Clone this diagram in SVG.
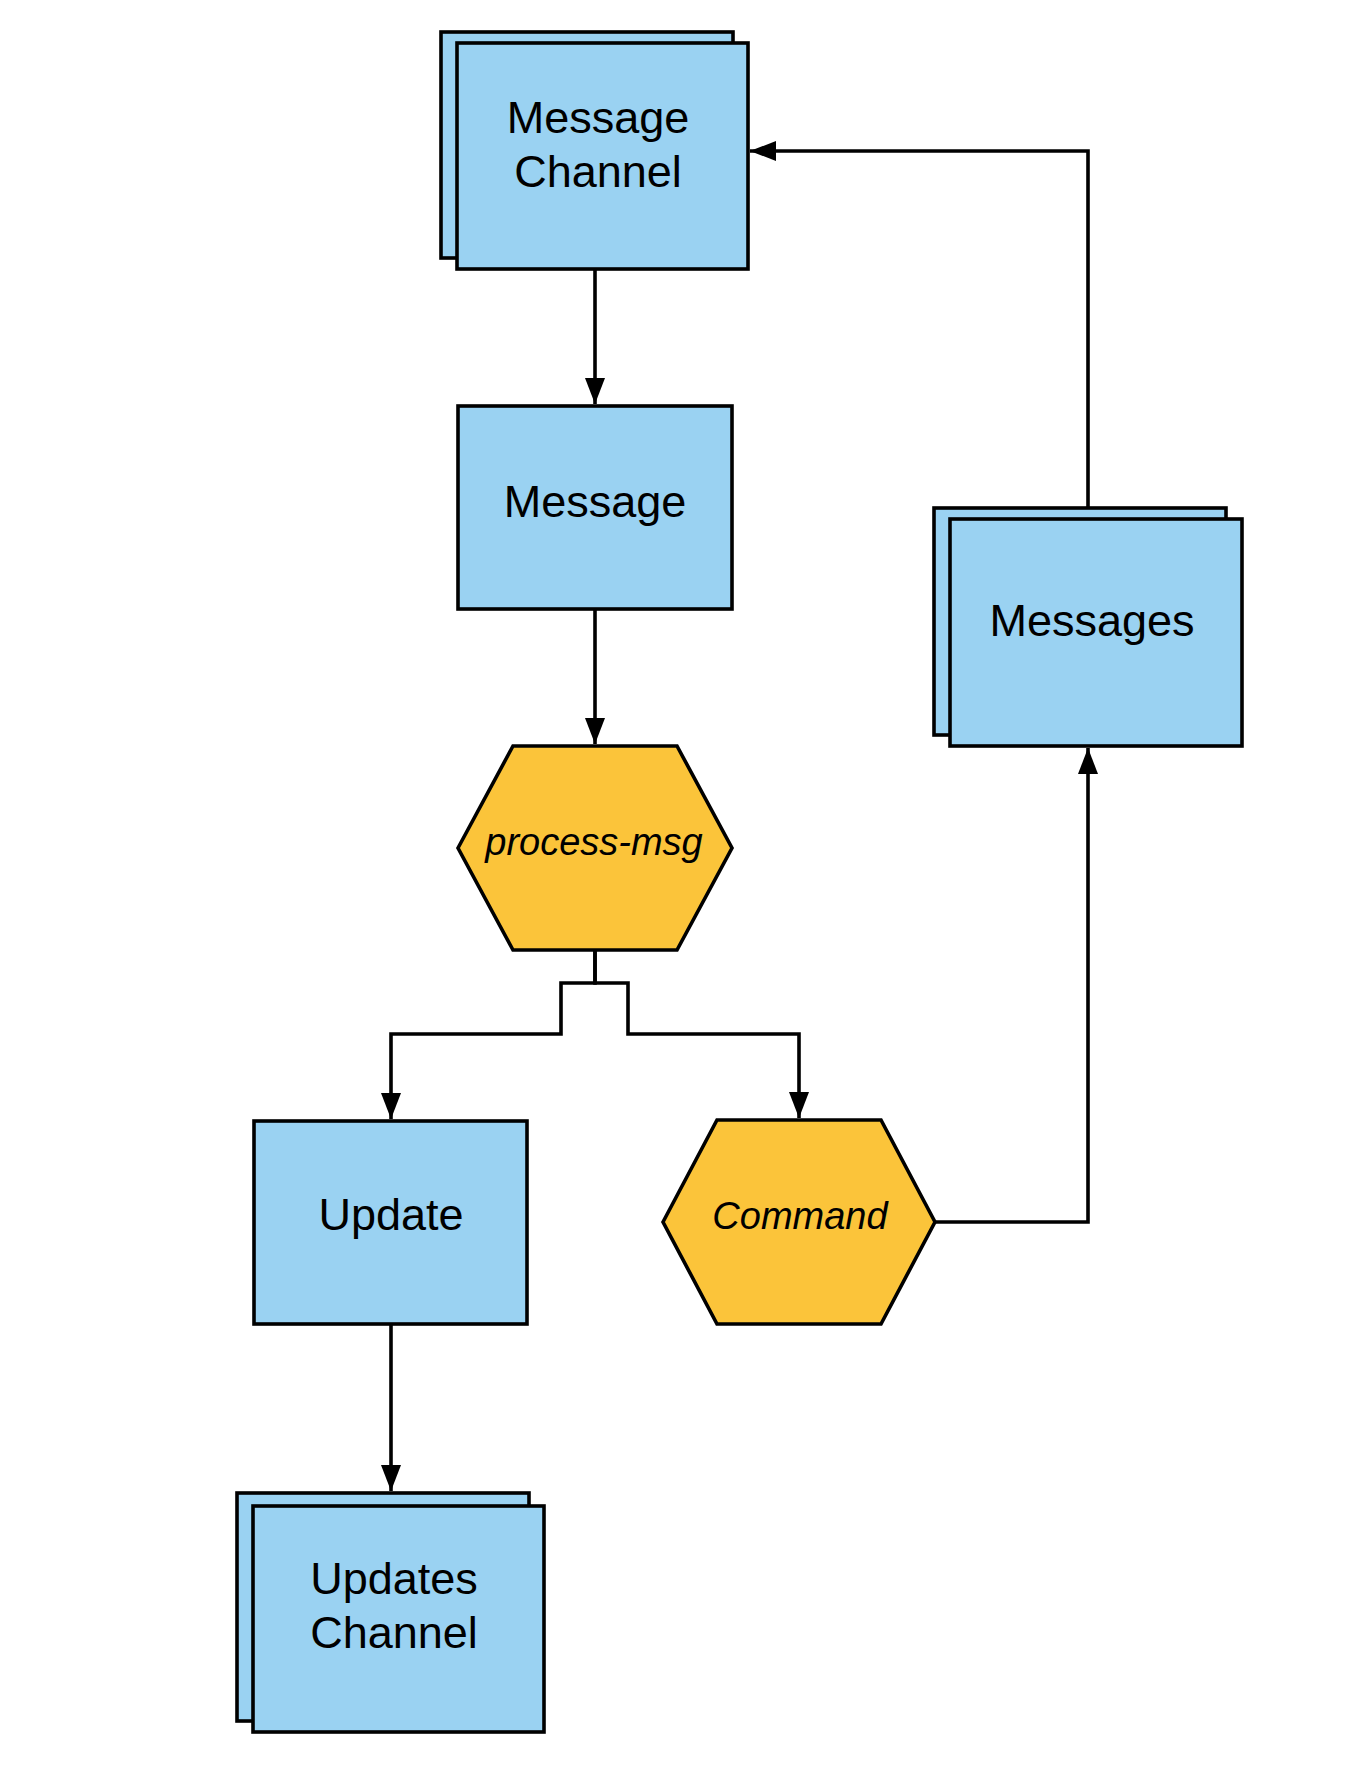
<svg xmlns="http://www.w3.org/2000/svg" width="1363" height="1765" viewBox="0 0 1363 1765">
<style>
.box{fill:#9AD2F2;stroke:#000;stroke-width:3.6}
.hex{fill:#FBC43A;stroke:#000;stroke-width:3.6}
.lbl{font-family:"Liberation Sans",Arial,sans-serif;font-size:45px;fill:#000;text-anchor:middle}
.ital{font-family:"Liberation Sans",Arial,sans-serif;font-size:38px;font-style:italic;fill:#000;text-anchor:middle}
.conn{fill:none;stroke:#000;stroke-width:3.6}
</style>
<defs>
<marker id="arr" markerUnits="userSpaceOnUse" markerWidth="26" markerHeight="20" refX="26" refY="10" orient="auto">
<path d="M0,0 L26,10 L0,20 z" fill="#000"/>
</marker>
</defs>
<rect width="1363" height="1765" fill="#fff"/>
<g id="connectors">
<path class="conn" d="M595,269 V404" marker-end="url(#arr)"/>
<path class="conn" d="M595,609 V744" marker-end="url(#arr)"/>
<path class="conn" d="M595,950 V983 H561 V1034 H391 V1119" marker-end="url(#arr)"/>
<path class="conn" d="M595,950 V983 H628 V1034 H799 V1118" marker-end="url(#arr)"/>
<path class="conn" d="M935,1222 H1088 V748" marker-end="url(#arr)"/>
<path class="conn" d="M1088,508 V151 H750" marker-end="url(#arr)"/>
<path class="conn" d="M391,1324 V1491" marker-end="url(#arr)"/>
</g>
<g id="message-channel">
<rect class="box" x="441" y="32" width="292" height="226"/>
<rect class="box" x="457" y="43" width="291" height="226"/>
<text class="lbl" x="598" y="133">Message</text>
<text class="lbl" x="598" y="187">Channel</text>
</g>
<g id="message">
<rect class="box" x="458" y="406" width="274" height="203"/>
<text class="lbl" x="595" y="517">Message</text>
</g>
<g id="process-msg">
<polygon class="hex" points="458,848 513,746 677,746 732,848 677,950 513,950"/>
<text class="ital" x="594" y="855">process-msg</text>
</g>
<g id="messages">
<rect class="box" x="934" y="508" width="292" height="227"/>
<rect class="box" x="950" y="519" width="292" height="227"/>
<text class="lbl" x="1092" y="636">Messages</text>
</g>
<g id="update">
<rect class="box" x="254" y="1121" width="273" height="203"/>
<text class="lbl" x="391" y="1230">Update</text>
</g>
<g id="command">
<polygon class="hex" points="663,1222 717,1120 881,1120 935,1222 881,1324 717,1324"/>
<text class="ital" x="800" y="1229">Command</text>
</g>
<g id="updates-channel">
<rect class="box" x="237" y="1493" width="292" height="228"/>
<rect class="box" x="253" y="1506" width="291" height="226"/>
<text class="lbl" x="394" y="1594">Updates</text>
<text class="lbl" x="394" y="1648">Channel</text>
</g>
</svg>
